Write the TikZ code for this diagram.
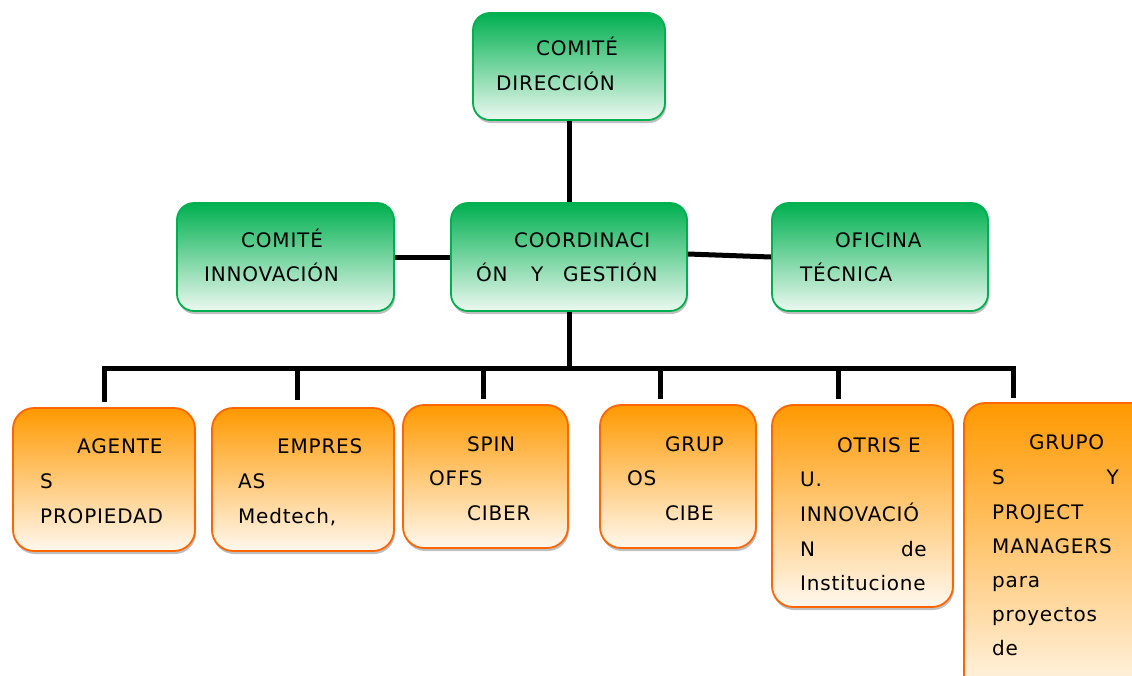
\documentclass[tikz,border=0pt]{standalone}
\usepackage{fontspec}
\newfontfamily\labfont{DejaVu Sans}[LetterSpace=4]
\usetikzlibrary{shadows}
\definecolor{gtop}{RGB}{0,176,80}
\definecolor{gbot}{RGB}{236,249,240}
\definecolor{gline}{RGB}{0,176,80}
\definecolor{otop}{RGB}{255,153,0}
\definecolor{obot}{RGB}{255,248,238}
\definecolor{oline}{RGB}{255,102,0}
\tikzset{
  gbox/.style={draw=gline, line width=1.8pt, rounded corners=17pt, top color=gtop, bottom color=gbot,
    drop shadow={shadow xshift=1pt, shadow yshift=-3pt, opacity=0.25, fill=black}, inner sep=0pt},
  obox/.style={draw=oline, line width=1.8pt, rounded corners=21pt, top color=otop, bottom color=obot,
    drop shadow={shadow xshift=1pt, shadow yshift=-3pt, opacity=0.25, fill=black}, inner sep=0pt},
  lbl/.style={anchor=base west, inner sep=0pt, font=\labfont\fontsize{20}{23}\selectfont, text=black},
  lblr/.style={lbl, anchor=base east},
  conn/.style={line width=5pt, draw=black, line join=miter}
}
\begin{document}
\begin{tikzpicture}[x=1pt,y=-1pt]
\clip (0,0) rectangle (1132,675);
\fill[white] (0,0) rectangle (1132,675);
% boxes
\node[gbox, minimum width=192pt, minimum height=107pt] (dir) at (569,66.5) {};
\node[gbox, minimum width=217pt, minimum height=108pt] (innov) at (285.5,257) {};
\node[gbox, minimum width=236pt, minimum height=108pt] (coord) at (569,257) {};
\node[gbox, minimum width=216pt, minimum height=108pt] (ofic) at (880,257) {};
\node[obox, minimum width=182pt, minimum height=143pt] (agent) at (104,479.5) {};
\node[obox, minimum width=182pt, minimum height=143pt] (empr) at (303,479.5) {};
\node[obox, minimum width=165pt, minimum height=143pt] (spin) at (485.5,476.5) {};
\node[obox, minimum width=156pt, minimum height=143pt] (grup) at (678,476.5) {};
\node[obox, minimum width=181pt, minimum height=202pt] (otris) at (862.5,506) {};
\node[obox, minimum width=190pt, minimum height=300pt] (gpm) at (1059,553) {};
% connectors
\coordinate (b1) at (104,368); \coordinate (d1) at (104,402);
\coordinate (bm) at (coord.south |- b1);
\coordinate (b2) at (297,368); \coordinate (d2) at (297,400);
\coordinate (b3) at (483,368); \coordinate (d3) at (483,399);
\coordinate (b4) at (660,368); \coordinate (d4) at (660,399);
\coordinate (b5) at (838,368); \coordinate (d5) at (838,399);
\coordinate (b6) at (1013,368); \coordinate (d6) at (1013,398);
\draw[conn] (dir.south) -- (coord.north);
\draw[conn] (innov.east) -- (coord.west);
\draw[conn] ([yshift=3pt]coord.east) -- (ofic.west);
\draw[conn] (coord.south) -- (bm);
\draw[conn] (d1) -- (b1) -- (b6) -- (d6);
\draw[conn] (b2) -- (d2);
\draw[conn] (b3) -- (d3);
\draw[conn] (b4) -- (d4);
\draw[conn] (b5) -- (d5);
% texts
\node[lbl] (t1) at (536,55) {COMITÉ};
\node[lbl] (t2) at (496,90.5) {DIRECCIÓN};
\node[lbl] (t3) at (241,247) {COMITÉ};
\node[lbl] (t4) at (204,281) {INNOVACIÓN};
\node[lbl] (t5) at (514,247) {COORDINACI};
\node[lbl] (t6) at (476,281) {ÓN};
\node[lbl] (t7) at (531,281) {Y};
\node[lbl] (t8) at (563,281) {GESTIÓN};
\node[lbl] (t9) at (835,247) {OFICINA};
\node[lbl] (t10) at (800,281) {TÉCNICA};
\node[lbl] (a1) at (77,453) {AGENTE};
\node[lbl] (a2) at (40,488) {S};
\node[lbl] (a3) at (40,523) {PROPIEDAD};
\node[lbl] (e1) at (277,453) {EMPRES};
\node[lbl] (e2) at (238,488) {AS};
\node[lbl] (e3) at (238,523) {Medtech,};
\node[lbl] (s1) at (467,451) {SPIN};
\node[lbl] (s2) at (429,485) {OFFS};
\node[lbl] (s3) at (467,520) {CIBER};
\node[lbl] (g1) at (665,451) {GRUP};
\node[lbl] (g2) at (627,485) {OS};
\node[lbl] (g3) at (665,520) {CIBE};
\node[lbl] (o1) at (837,452) {OTRIS E};
\node[lbl] (o2) at (800,486) {U.};
\node[lbl] (o3) at (800,521) {INNOVACIÓ};
\node[lbl] (o4) at (800,556) {N};
\node[lblr] (o5) at (927,556) {de};
\node[lbl] (o6) at (800,590) {Institucione};
\node[lbl] (p1) at (1029,449) {GRUPO};
\node[lbl] (p2) at (992,484) {S};
\node[lblr] (p3) at (1119,484) {Y};
\node[lbl] (p4) at (992,519) {PROJECT};
\node[lbl] (p5) at (992,553) {MANAGERS};
\node[lbl] (p6) at (992,587) {para};
\node[lbl] (p7) at (992,621) {proyectos};
\node[lbl] (p8) at (992,655) {de};
\end{tikzpicture}
\end{document}
